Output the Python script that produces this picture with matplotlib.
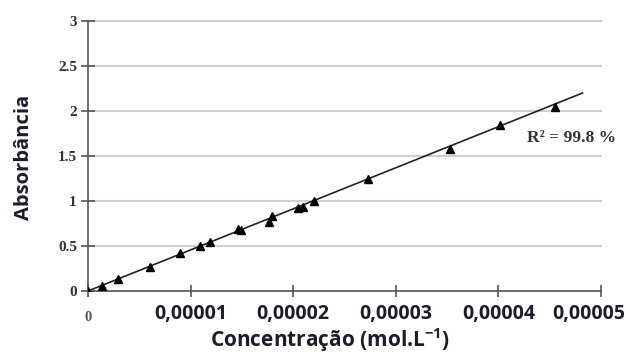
import matplotlib
matplotlib.use("Agg")
import matplotlib.pyplot as plt
import matplotlib.transforms as mtrans
import numpy as np

# Data
conc = [0.0, 1.4e-6, 2.9e-6, 6.0e-6, 9.0e-6, 1.09e-5, 1.19e-5, 1.46e-5, 1.49e-5,
        1.76e-5, 1.79e-5, 2.05e-5, 2.10e-5, 2.20e-5, 2.73e-5, 3.53e-5, 4.02e-5, 4.55e-5]
absorb = [0.0, 0.06, 0.13, 0.27, 0.42, 0.50, 0.55, 0.69, 0.68,
          0.77, 0.83, 0.92, 0.93, 1.00, 1.25, 1.58, 1.85, 2.05]
fit_x = [0.0, 4.82e-5]
fit_y = [0.0, 2.20]
xticks = [0, 1e-5, 2e-5, 3e-5, 4e-5, 5e-5]
xticklabels = ["", "0,00001", "0,00002", "0,00003", "0,00004", "0,00005"]
yticks = [0, 0.5, 1, 1.5, 2, 2.5, 3]
yticklabels = ["0", "0.5", "1", "1.5", "2", "2.5", "3"]

plt.rcParams['mathtext.fontset'] = 'custom'
plt.rcParams['mathtext.rm'] = 'Open Sans:bold'
plt.rcParams['mathtext.it'] = 'Open Sans:bold'
plt.rcParams['mathtext.bf'] = 'Open Sans:bold'

W, H = 630, 356
fig = plt.figure(figsize=(W/100, H/100), dpi=100)
ax = fig.add_axes([88/W, 1-291/H, (601-88)/W, (291-21)/H])
ax.set_xlim(0, 5e-5)
ax.set_ylim(0, 3)

for y in yticks[1:]:
    ax.axhline(y, color='#d0d0d0', lw=1.5, zorder=0, clip_on=False)

ax.plot(fit_x, fit_y, color='#222222', lw=1.2, zorder=2)
ax.plot(conc, absorb, linestyle='none', marker='^', color='black', ms=5.5, zorder=3)

for s in ['top', 'right']:
    ax.spines[s].set_visible(False)
for s in ['left', 'bottom']:
    ax.spines[s].set_color('#555555')
    ax.spines[s].set_linewidth(1.2)

ax.set_xticks(xticks)
ax.set_xticklabels(xticklabels, fontfamily='Open Sans', fontweight='bold',
                   fontsize=14, color='#1c1c2a')
ax.tick_params(axis='x', direction='inout', length=9, width=1.2, color='#555555', pad=5)
last = ax.get_xticklabels()[-1]
last.set_transform(last.get_transform() + mtrans.ScaledTranslation(-12/100, 0, fig.dpi_scale_trans))

ax.set_yticks(yticks)
ax.set_yticklabels(yticklabels, fontfamily='Liberation Serif', fontweight='bold',
                   fontsize=11, color='#333333')
ax.tick_params(axis='y', direction='inout', length=10, width=1.2, color='#555555', pad=3)

ax.text(0, -0.29, "0", transform=ax.transData, ha='center', va='center',
        fontfamily='Liberation Serif', fontweight='bold', fontsize=10.5, color='#555555')

ax.text(4.28e-5, 1.70, "R² = 99.8 %", ha='left', va='center',
        fontfamily='Liberation Serif', fontweight='bold', fontsize=12.5, color='#333333')

fig.text(330/W, 1-340/H, "Concentração (mol.L$^{-1}$)", ha='center', va='center',
         fontfamily='Open Sans', fontweight='bold', fontsize=15, color='#1c1c2a')
fig.text(24/W, 1-157/H, "Absorbância", ha='center', va='center', rotation=90,
         fontfamily='Open Sans', fontweight='bold', fontsize=14.5, color='#1c1c2a')

fig.savefig("out.png", dpi=100)
